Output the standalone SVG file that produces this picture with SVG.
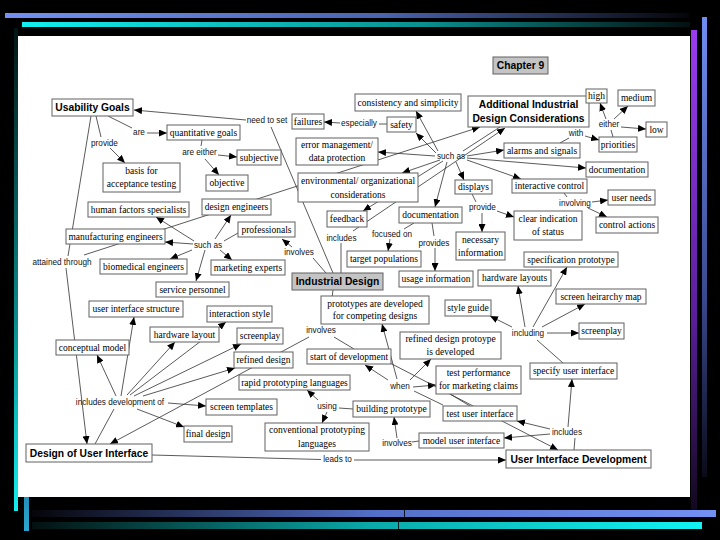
<svg xmlns="http://www.w3.org/2000/svg" width="720" height="540" viewBox="0 0 720 540">
<defs>
<linearGradient id="gTopBlue" x1="0" y1="0" x2="1" y2="0"><stop offset="0" stop-color="#7391f2"/><stop offset="0.55" stop-color="#4a64b0"/><stop offset="1" stop-color="#05050a"/></linearGradient>
<linearGradient id="gTopCyan" x1="0" y1="0" x2="1" y2="0"><stop offset="0" stop-color="#12f0f0"/><stop offset="0.6" stop-color="#0a9090"/><stop offset="1" stop-color="#041010"/></linearGradient>
<linearGradient id="gBotBlue" x1="0" y1="0" x2="1" y2="0"><stop offset="0" stop-color="#05050a"/><stop offset="0.5" stop-color="#5370c8"/><stop offset="1" stop-color="#7391f2"/></linearGradient>
<linearGradient id="gBotCyan" x1="0" y1="0" x2="1" y2="0"><stop offset="0" stop-color="#041010"/><stop offset="0.5" stop-color="#0aa8a8"/><stop offset="1" stop-color="#12f4f4"/></linearGradient>
<linearGradient id="gRightPurple" x1="0" y1="0" x2="0" y2="1"><stop offset="0" stop-color="#9a3cf0"/><stop offset="0.6" stop-color="#5a1e9a"/><stop offset="1" stop-color="#12081e"/></linearGradient>
<linearGradient id="gRightBlue" x1="0" y1="0" x2="0" y2="1"><stop offset="0" stop-color="#6f8ef0"/><stop offset="0.6" stop-color="#3a4a90"/><stop offset="1" stop-color="#0a0a18"/></linearGradient>
<linearGradient id="gLeftCyan" x1="0" y1="0" x2="0" y2="1"><stop offset="0" stop-color="#041414"/><stop offset="0.6" stop-color="#0a8a8a"/><stop offset="1" stop-color="#14eef0"/></linearGradient>
<linearGradient id="gLeftBlue" x1="0" y1="0" x2="0" y2="1"><stop offset="0" stop-color="#06101a"/><stop offset="0.6" stop-color="#1a6a90"/><stop offset="1" stop-color="#2aa6d2"/></linearGradient>
<marker id="arr" markerUnits="userSpaceOnUse" markerWidth="8" markerHeight="7" refX="8" refY="3.5" orient="auto"><path d="M0,0 L8,3.5 L0,7 z" fill="#000"/></marker>
<style>
.n rect{fill:#fff;stroke:#606060;stroke-width:1}
.g rect{fill:#c4c4c4;stroke:#606060;stroke-width:1}
.n text,.g text{font-family:"Liberation Serif","Times New Roman",serif;font-size:9.5px;text-anchor:middle;fill:#000}
.n text.b,.g text.b{font-family:"Liberation Sans",Arial,sans-serif;font-weight:bold;font-size:10.3px}
.lbl text{font-family:"Liberation Sans",Arial,sans-serif;font-size:8.2px;text-anchor:middle;fill:#111111}
#connectors line{stroke:#303030;stroke-width:0.8;fill:none}
#connectors line.a{marker-end:url(#arr)}
</style>
</defs>
<rect x="0" y="0" width="720" height="540" fill="#000"/>
<g id="frame">
<rect x="5" y="13" width="684" height="5" fill="url(#gTopBlue)"/>
<rect x="22" y="22" width="668" height="5" fill="url(#gTopCyan)"/>
<rect x="702" y="17" width="5" height="460" fill="url(#gRightBlue)"/>
<rect x="691" y="30" width="6" height="480" fill="url(#gRightPurple)"/>
<rect x="14" y="28" width="4" height="483" fill="url(#gLeftCyan)"/>
<rect x="24" y="300" width="5" height="231" fill="url(#gLeftBlue)"/>
<rect x="32" y="510" width="684" height="7" fill="url(#gBotBlue)"/>
<rect x="32" y="522" width="670" height="7" fill="url(#gBotCyan)"/>
<rect x="404" y="510" width="1" height="7" fill="#101020"/>
<rect x="398" y="522" width="1" height="7" fill="#082020"/>
<rect x="18" y="36" width="672" height="461" fill="#fff"/>
</g>
<g id="connectors">
<line x1="108" y1="116" x2="132" y2="128"/>
<line class="a" x1="147" y1="133" x2="167" y2="133"/>
<line x1="96" y1="116" x2="101" y2="137"/>
<line class="a" x1="110" y1="148" x2="125" y2="163"/>
<line x1="202" y1="140" x2="201" y2="146"/>
<line class="a" x1="218" y1="155" x2="237" y2="157"/>
<line class="a" x1="205" y1="159" x2="219" y2="175"/>
<line x1="91" y1="116" x2="68" y2="256"/>
<line class="a" x1="66" y1="268" x2="87" y2="444"/>
<line class="a" x1="84" y1="255" x2="480" y2="127"/>
<line x1="271" y1="127" x2="333" y2="273"/>
<line class="a" x1="246" y1="120" x2="134" y2="110"/>
<line x1="326" y1="273" x2="313" y2="258"/>
<line class="a" x1="292" y1="247" x2="282" y2="239"/>
<line x1="238" y1="233" x2="224" y2="241"/>
<line class="a" x1="194" y1="241" x2="156" y2="217"/>
<line class="a" x1="193" y1="244" x2="165" y2="242"/>
<line class="a" x1="192" y1="250" x2="170" y2="259"/>
<line class="a" x1="205" y1="250" x2="196" y2="281"/>
<line class="a" x1="220" y1="250" x2="232" y2="260"/>
<line class="a" x1="215" y1="239" x2="231" y2="215"/>
<line x1="341" y1="273" x2="341" y2="243"/>
<line class="a" x1="353" y1="231" x2="505" y2="128"/>
<line x1="500" y1="127" x2="463" y2="151"/>
<line class="a" x1="438" y1="151" x2="416" y2="111"/>
<line class="a" x1="436" y1="153" x2="416" y2="133"/>
<line class="a" x1="435" y1="156" x2="378" y2="152"/>
<line class="a" x1="440" y1="160" x2="402" y2="173"/>
<line class="a" x1="443" y1="161" x2="363" y2="211"/>
<line class="a" x1="447" y1="162" x2="435" y2="207"/>
<line class="a" x1="456" y1="162" x2="464" y2="180"/>
<line class="a" x1="467" y1="156" x2="504" y2="150"/>
<line class="a" x1="467" y1="158" x2="586" y2="168"/>
<line class="a" x1="467" y1="160" x2="521" y2="179"/>
<line x1="387" y1="124" x2="379" y2="124"/>
<line class="a" x1="340" y1="123" x2="324" y2="122"/>
<line x1="560" y1="143" x2="569" y2="138"/>
<line class="a" x1="585" y1="136" x2="599" y2="140"/>
<line x1="613" y1="137" x2="611" y2="130"/>
<line class="a" x1="606" y1="119" x2="600" y2="103"/>
<line class="a" x1="614" y1="119" x2="628" y2="106"/>
<line class="a" x1="621" y1="127" x2="646" y2="129"/>
<line x1="564" y1="193" x2="567" y2="197"/>
<line class="a" x1="592" y1="202" x2="608" y2="200"/>
<line class="a" x1="588" y1="208" x2="607" y2="217"/>
<line x1="472" y1="194" x2="476" y2="202"/>
<line class="a" x1="482" y1="213" x2="482" y2="232"/>
<line class="a" x1="497" y1="211" x2="514" y2="217"/>
<line x1="414" y1="223" x2="404" y2="229"/>
<line class="a" x1="390" y1="239" x2="388" y2="251"/>
<line x1="432" y1="223" x2="434" y2="236"/>
<line class="a" x1="435" y1="248" x2="435" y2="271"/>
<line x1="333" y1="290" x2="329" y2="323"/>
<line class="a" x1="309" y1="337" x2="110" y2="444"/>
<line x1="334" y1="337" x2="354" y2="349"/>
<line class="a" x1="388" y1="380" x2="365" y2="365"/>
<line class="a" x1="397" y1="379" x2="382" y2="324"/>
<line class="a" x1="410" y1="380" x2="431" y2="359"/>
<line class="a" x1="413" y1="387" x2="436" y2="385"/>
<line class="a" x1="390" y1="363" x2="558" y2="450"/>
<line x1="443" y1="405" x2="414" y2="391"/>
<line x1="450" y1="394" x2="470" y2="406"/>
<line class="a" x1="550" y1="429" x2="517" y2="421"/>
<line class="a" x1="550" y1="434" x2="504" y2="438"/>
<line x1="574" y1="450" x2="575" y2="438"/>
<line class="a" x1="568" y1="427" x2="572" y2="379"/>
<line x1="563" y1="363" x2="537" y2="340"/>
<line class="a" x1="512" y1="327" x2="490" y2="316"/>
<line class="a" x1="525" y1="327" x2="518" y2="286"/>
<line class="a" x1="533" y1="327" x2="567" y2="267"/>
<line class="a" x1="542" y1="327" x2="585" y2="304"/>
<line class="a" x1="547" y1="333" x2="579" y2="333"/>
<line x1="353" y1="409" x2="339" y2="408"/>
<line class="a" x1="318" y1="400" x2="307" y2="390"/>
<line class="a" x1="327" y1="412" x2="322" y2="423"/>
<line x1="419" y1="441" x2="412" y2="442"/>
<line class="a" x1="397" y1="438" x2="394" y2="417"/>
<line x1="152" y1="455" x2="321" y2="459.5"/>
<line class="a" x1="354" y1="460" x2="506" y2="460"/>
<line x1="95" y1="444" x2="114" y2="409"/>
<line class="a" x1="116" y1="396" x2="97" y2="355"/>
<line class="a" x1="121" y1="396" x2="134" y2="317"/>
<line class="a" x1="127" y1="395" x2="175" y2="342"/>
<line class="a" x1="130" y1="395" x2="226" y2="322"/>
<line class="a" x1="134" y1="396" x2="241" y2="344"/>
<line class="a" x1="143" y1="396" x2="235" y2="368"/>
<line class="a" x1="168" y1="403" x2="206" y2="406"/>
<line class="a" x1="137" y1="409" x2="184" y2="427"/>
</g>
<g id="labels" class="lbl" fill="#111111">
<text x="267" y="123">need to set</text>
<text x="139" y="135">are</text>
<text x="104.5" y="145.5">provide</text>
<text x="199.5" y="154.5">are either</text>
<text x="359" y="126">especially</text>
<text x="451" y="159">such as</text>
<text x="576" y="136">with</text>
<text x="609" y="127">either</text>
<text x="575" y="205.5">involving</text>
<text x="482.5" y="210">provide</text>
<text x="341.5" y="241">includes</text>
<text x="392" y="237">focused on</text>
<text x="434" y="245.5">provides</text>
<text x="299" y="255">involves</text>
<text x="208" y="248">such as</text>
<text x="62" y="264.5">attained through</text>
<text x="528" y="335.5">including</text>
<text x="321" y="333">involves</text>
<text x="400" y="389">when</text>
<text x="120" y="404.5">includes development of</text>
<text x="327" y="409">using</text>
<text x="397" y="445.5">involves</text>
<text x="567" y="435">includes</text>
<text x="337.5" y="462">leads to</text>
</g>
<g id="chapter9" class="g"><rect x="493" y="57" width="55" height="17"/><text class="b" x="520.5" y="69.2">Chapter 9</text></g>
<g id="usability-goals" class="n"><rect x="52" y="99" width="81" height="17"/><text class="b" x="92.5" y="111.2">Usability Goals</text></g>
<g id="quantitative-goals" class="n"><rect x="167" y="125" width="73" height="15"/><text x="203.5" y="135.8">quantitative goals</text></g>
<g id="basis" class="n"><rect x="103" y="163" width="77" height="29"/><text x="141.5" y="173.8">basis for</text><text x="141.5" y="187.3">acceptance testing</text></g>
<g id="subjective" class="n"><rect x="237" y="150" width="44" height="15"/><text x="259" y="160.8">subjective</text></g>
<g id="objective" class="n"><rect x="206" y="175" width="42" height="16"/><text x="227" y="186.3">objective</text></g>
<g id="failures" class="n"><rect x="292" y="114" width="32" height="15"/><text x="308" y="124.8">failures</text></g>
<g id="safety" class="n"><rect x="387" y="117" width="29" height="15"/><text x="401.5" y="127.8">safety</text></g>
<g id="consistency" class="n"><rect x="355" y="94" width="106" height="17"/><text x="408" y="105.8">consistency and simplicity</text></g>
<g id="additional" class="n"><rect x="468" y="96" width="121" height="31"/><text class="b" x="528.5" y="107.8">Additional Industrial</text><text class="b" x="528.5" y="121.8">Design Considerations</text></g>
<g id="high" class="n"><rect x="586" y="89" width="21" height="14"/><text x="596.5" y="99.3">high</text></g>
<g id="medium" class="n"><rect x="618" y="90" width="37" height="16"/><text x="636.5" y="101.3">medium</text></g>
<g id="low" class="n"><rect x="646" y="122" width="21" height="15"/><text x="656.5" y="132.8">low</text></g>
<g id="priorities" class="n"><rect x="599" y="137" width="38" height="15"/><text x="618" y="147.8">priorities</text></g>
<g id="alarms" class="n"><rect x="504" y="143" width="76" height="15"/><text x="542" y="153.8">alarms and signals</text></g>
<g id="documentation-r" class="n"><rect x="586" y="162" width="62" height="15"/><text x="617" y="172.8">documentation</text></g>
<g id="interactive-control" class="n"><rect x="512" y="179" width="75" height="14"/><text x="549.5" y="189.3">interactive control</text></g>
<g id="user-needs" class="n"><rect x="608" y="190" width="47" height="15"/><text x="631.5" y="200.8">user needs</text></g>
<g id="control-actions" class="n"><rect x="596" y="217" width="62" height="16"/><text x="627" y="228.3">control actions</text></g>
<g id="error-management" class="n"><rect x="296" y="138" width="82" height="27"/><text x="337" y="148.3">error management/</text><text x="337" y="161">data protection</text></g>
<g id="environmental" class="n"><rect x="298" y="173" width="120" height="29"/><text x="358" y="184.3">environmental/ organizational</text><text x="358" y="197.6">considerations</text></g>
<g id="displays" class="n"><rect x="455" y="180" width="37" height="14"/><text x="473.5" y="190.3">displays</text></g>
<g id="feedback" class="n"><rect x="327" y="211" width="40" height="16"/><text x="347" y="222.3">feedback</text></g>
<g id="documentation-m" class="n"><rect x="399" y="207" width="63" height="16"/><text x="430.5" y="218.3">documentation</text></g>
<g id="clear-indication" class="n"><rect x="514" y="211" width="68" height="29"/><text x="548" y="222.3">clear indication</text><text x="548" y="235.3">of status</text></g>
<g id="necessary-info" class="n"><rect x="456" y="232" width="49" height="28"/><text x="480.5" y="243.3">necessary</text><text x="480.5" y="256">information</text></g>
<g id="target-populations" class="n"><rect x="347" y="251" width="74" height="16"/><text x="384" y="262.3">target populations</text></g>
<g id="usage-information" class="n"><rect x="399" y="271" width="74" height="16"/><text x="436" y="282.3">usage information</text></g>
<g id="industrial-design" class="g"><rect x="292" y="273" width="91" height="17"/><text class="b" x="337.5" y="285.2">Industrial Design</text></g>
<g id="human-factors" class="n"><rect x="88" y="202" width="101" height="15"/><text x="138.5" y="212.8">human factors specialists</text></g>
<g id="design-engineers" class="n"><rect x="202" y="199" width="69" height="16"/><text x="236.5" y="210.3">design engineers</text></g>
<g id="manufacturing" class="n"><rect x="66" y="229" width="99" height="15"/><text x="115.5" y="239.8">manufacturing engineers</text></g>
<g id="professionals" class="n"><rect x="238" y="222" width="57" height="15"/><text x="266.5" y="232.8">professionals</text></g>
<g id="biomedical" class="n"><rect x="100" y="259" width="87" height="15"/><text x="143.5" y="269.8">biomedical engineers</text></g>
<g id="marketing" class="n"><rect x="211" y="260" width="74" height="15"/><text x="248" y="270.8">marketing experts</text></g>
<g id="service" class="n"><rect x="156" y="282" width="73" height="15"/><text x="192.5" y="292.8">service personnel</text></g>
<g id="ui-structure" class="n"><rect x="89" y="301" width="94" height="16"/><text x="136" y="312.3">user interface structure</text></g>
<g id="interaction-style" class="n"><rect x="207" y="306" width="65" height="16"/><text x="239.5" y="317.3">interaction style</text></g>
<g id="hardware-layout" class="n"><rect x="150" y="327" width="69" height="15"/><text x="184.5" y="337.8">hardware layout</text></g>
<g id="screenplay-l" class="n"><rect x="237" y="328" width="46" height="16"/><text x="260" y="339.3">screenplay</text></g>
<g id="conceptual-model" class="n"><rect x="56" y="340" width="73" height="15"/><text x="92.5" y="350.8">conceptual model</text></g>
<g id="refined-design" class="n"><rect x="234" y="352" width="59" height="16"/><text x="263.5" y="363.3">refined design</text></g>
<g id="start-dev" class="n"><rect x="307" y="349" width="84" height="15"/><text x="349" y="359.8">start of development</text></g>
<g id="prototypes" class="n"><rect x="321" y="296" width="108" height="28"/><text x="375" y="306.6">prototypes are developed</text><text x="375" y="319.3">for competing designs</text></g>
<g id="refined-proto" class="n"><rect x="400" y="332" width="101" height="27"/><text x="450.5" y="341.6">refined design protoype</text><text x="450.5" y="355">is developed</text></g>
<g id="test-performance" class="n"><rect x="436" y="366" width="85" height="28"/><text x="478.5" y="376">test performance</text><text x="478.5" y="389.3">for marketing claims</text></g>
<g id="rapid" class="n"><rect x="239" y="375" width="111" height="15"/><text x="294.5" y="385.8">rapid prototyping languages</text></g>
<g id="screen-templates" class="n"><rect x="206" y="399" width="71" height="16"/><text x="241.5" y="410.3">screen templates</text></g>
<g id="building-prototype" class="n"><rect x="353" y="401" width="77" height="16"/><text x="391.5" y="412.3">building prototype</text></g>
<g id="test-ui" class="n"><rect x="443" y="406" width="74" height="15"/><text x="480" y="416.8">test user interface</text></g>
<g id="conventional" class="n"><rect x="265" y="423" width="104" height="28"/><text x="317" y="433.3">conventional prototyping</text><text x="317" y="446.6">languages</text></g>
<g id="model-ui" class="n"><rect x="419" y="433" width="85" height="15"/><text x="461.5" y="443.8">model user interface</text></g>
<g id="final-design" class="n"><rect x="184" y="426" width="48" height="16"/><text x="208" y="437.3">final design</text></g>
<g id="dui" class="n"><rect x="26" y="444" width="126" height="18"/><text class="b" x="89" y="456.7">Design of User Interface</text></g>
<g id="uid" class="n"><rect x="506" y="450" width="145" height="18"/><text class="b" x="578.5" y="462.7">User Interface Development</text></g>
<g id="specify-ui" class="n"><rect x="530" y="363" width="87" height="16"/><text x="573.5" y="374.3">specify user interface</text></g>
<g id="style-guide" class="n"><rect x="445" y="300" width="46" height="16"/><text x="468" y="311.3">style guide</text></g>
<g id="hardware-layouts" class="n"><rect x="478" y="270" width="73" height="16"/><text x="514.5" y="281.3">hardware layouts</text></g>
<g id="spec-prototype" class="n"><rect x="524" y="252" width="94" height="15"/><text x="571" y="262.8">specification prototype</text></g>
<g id="screen-heirarchy" class="n"><rect x="556" y="289" width="90" height="15"/><text x="601" y="299.8">screen heirarchy map</text></g>
<g id="screenplay-r" class="n"><rect x="579" y="323" width="45" height="16"/><text x="601.5" y="334.3">screenplay</text></g>
</svg>
